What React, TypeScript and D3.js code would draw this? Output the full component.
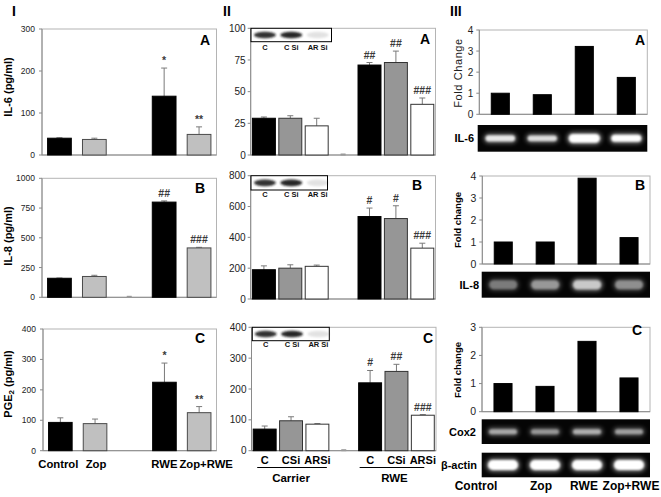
import React from "react";
import * as d3 from "d3";

const FONT = "Arial, 'Liberation Sans', Helvetica, sans-serif";

// ---------- Panel I data ----------
const groupsI = ["Control", "Zop", "", "RWE", "Zop+RWE"];
const il6Values = [40, 37, null, 140, 49];
const il6Errors = [1, 3, 0, 67, 18];
const il6Marks = ["", "", "", "*", "**"];
const il8Values = [160, 175, 0, 800, 415];
const il8Errors = [2, 10, 0, 10, 5];
const il8Marks = ["", "", "", "##", "###"];
const pge2Values = [93, 89, null, 225, 125];
const pge2Errors = [15, 15, 0, 63, 20];
const pge2Marks = ["", "", "", "*", "**"];

// ---------- Panel II data ----------
const groupsII = ["C", "CSi", "ARSi", "", "C", "CSi", "ARSi"];
const treatmentsII = ["Carrier", "RWE"];
const insetLanes = ["C", "C Si", "AR Si"];
const insetIntensity = [0.9, 0.95, 0.12];
const il6SiValues = [29, 29, 23, 0, 71, 73, 40];
const il6SiErrors = [1, 2, 6, 0, 2, 9, 5];
const il6SiMarks = ["", "", "", "", "##", "##", "###"];
const il8SiValues = [190, 200, 212, null, 535, 522, 330];
const il8SiErrors = [25, 22, 8, 0, 55, 83, 32];
const il8SiMarks = ["", "", "", "", "#", "#", "###"];
const pge2SiValues = [70, 97, 86, 0, 220, 257, 115];
const pge2SiErrors = [10, 13, 2, 0, 40, 23, 2];
const pge2SiMarks = ["", "", "", "", "#", "##", "###"];

// ---------- Panel III data ----------
const groupsIII = ["Control", "Zop", "RWE", "Zop+RWE"];
const il6Fold = [1.0, 0.93, 3.22, 1.75];
const il8Fold = [1.0, 1.0, 3.9, 1.2];
const cox2Fold = [1.0, 0.9, 2.5, 1.2];
const il6Gel = [0.85, 0.8, 1, 1];
const il6GelSize = [0.9, 0.85, 1.25, 1.0];
const il8Gel = [0.45, 0.6, 0.95, 0.55];
const cox2Gel = [0.7, 0.6, 0.75, 0.65];
const actinGel = [1, 1, 1, 1];

type PanelProps = {
  left: number; right: number; top: number; bottom: number;
  max: number; step: number;
  values: (number | null)[]; errors?: number[]; marks?: string[];
  fills: string[]; strokes: string[]; pad: number;
  tickFont: number; tickGap: number;
  letter: string; letterX: number; letterY: number;
  children?: (x: d3.ScaleBand<number>) => React.ReactNode;
};

function BarPanel(p: PanelProps) {
  const idx = p.values.map((_, i) => i);
  const x = d3.scaleBand<number>().domain(idx).range([p.left, p.right]).paddingInner(p.pad).paddingOuter(p.pad / 2);
  const y = d3.scaleLinear().domain([0, p.max]).range([p.bottom, p.top]);
  const ticks = d3.range(0, p.max + p.step / 2, p.step);
  const bw = x.bandwidth();
  return (
    <g fontFamily={FONT}>
      <rect x={p.left} y={p.top} width={p.right - p.left} height={p.bottom - p.top} fill="#fff" stroke="#b4b4b4" strokeWidth={1} />
      <line x1={p.left} x2={p.left} y1={p.top} y2={p.bottom} stroke="#8a8a8a" />
      <line x1={p.left} x2={p.right} y1={p.bottom} y2={p.bottom} stroke="#8a8a8a" />
      {ticks.map((t) => (
        <g key={t}>
          <line x1={p.left - 3} x2={p.left} y1={y(t)} y2={y(t)} stroke="#8a8a8a" />
          <text x={p.left - p.tickGap} y={y(t)} dy="0.36em" textAnchor="end" fontSize={p.tickFont} fill="#222">{t}</text>
        </g>
      ))}
      {p.values.map((v, i) => {
        if (v === null) return null;
        const cx = (x(i) as number) + bw / 2;
        if (v === 0) {
          return <line key={i} x1={cx - 2.5} x2={cx + 2.5} y1={p.bottom - 0.5} y2={p.bottom - 0.5} stroke="#999" strokeWidth={2} />;
        }
        const e = p.errors ? p.errors[i] : 0;
        const yt = y(v + e);
        return (
          <g key={i}>
            {e > 0 && (
              <g stroke="#7a7a7a" strokeWidth={1}>
                <line x1={cx} x2={cx} y1={y(v)} y2={yt} />
                <line x1={cx - 3} x2={cx + 3} y1={yt} y2={yt} />
              </g>
            )}
            <rect x={x(i)} y={y(v)} width={bw} height={p.bottom - y(v)} fill={p.fills[i]} stroke={p.strokes[i]} strokeWidth={1} />
            {p.marks && p.marks[i] && (
              <text x={cx} y={yt - 4} textAnchor="middle" fontSize={10.5} fontWeight="bold" fill="#3a3a3a">{p.marks[i]}</text>
            )}
          </g>
        );
      })}
      <text x={p.letterX} y={p.letterY} fontSize={14} fontWeight="bold" fill="#000">{p.letter}</text>
      {p.children && p.children(x)}
    </g>
  );
}

function Inset({ x0, x1, y0, y1, labelY, centers }: { x0: number; x1: number; y0: number; y1: number; labelY: number; centers: number[] }) {
  const cy = (y0 + y1) / 2;
  return (
    <g fontFamily={FONT}>
      <rect x={x0} y={y0} width={x1 - x0} height={y1 - y0} fill="#fff" stroke="#000" strokeWidth={1} />
      {insetIntensity.map((k, i) => (
        <ellipse key={i} cx={centers[i]} cy={cy} rx={11} ry={3.3} fill="#1a1a1a" opacity={k} filter="url(#blurS)" />
      ))}
      {insetLanes.map((l, i) => (
        <text key={l} x={centers[i]} y={labelY} textAnchor="middle" fontSize={7.5} fontWeight="bold" fill="#111">{l}</text>
      ))}
    </g>
  );
}

function Gel({ x0, x1, y0, y1, centers, intensity, sizes, bandH, bandW, label, labelX, glow }: {
  x0: number; x1: number; y0: number; y1: number; centers: number[]; intensity: number[]; sizes?: number[];
  bandH: number; bandW: number; label: string; labelX: number; glow: boolean;
}) {
  const cy = (y0 + y1) / 2;
  return (
    <g fontFamily={FONT}>
      <rect x={x0} y={y0} width={x1 - x0} height={y1 - y0} fill="#050505" />
      {intensity.map((k, i) => {
        const s = sizes ? sizes[i] : 1;
        const h = bandH * s;
        const w = bandW * (0.85 + 0.15 * s);
        return (
          <g key={i}>
            <rect x={centers[i] - w / 2 - 2} y={cy - h / 2 - 2} width={w + 4} height={h + 4} rx={h / 2 + 2}
              fill="#bbb" opacity={k * 0.6} filter="url(#blurL)" />
            <rect x={centers[i] - w / 2} y={cy - h / 2} width={w} height={h} rx={h / 2}
              fill={glow ? "#fff" : "#cfcfcf"} opacity={k} filter="url(#blurS)" />
          </g>
        );
      })}
      <text x={labelX} y={cy} dy="0.36em" textAnchor="end" fontSize={11} fontWeight="bold" fill="#000">{label}</text>
    </g>
  );
}

export default function App() {
  const fillsI = ["#000", "#c0c0c0", "#000", "#000", "#c0c0c0"];
  const strokesI = ["#000", "#4a4a4a", "#000", "#000", "#4a4a4a"];
  const fillsII = ["#000", "#969696", "#fff", "#000", "#000", "#969696", "#fff"];
  const strokesII = ["#000", "#333", "#333", "#000", "#000", "#333", "#333"];
  const fillsIII = ["#000", "#000", "#000", "#000"];
  const labelShiftI = [-2, 1, 0, 0, 7];

  const insetCenters = (x: d3.ScaleBand<number>) => [0, 1, 2].map((i) => (x(i) as number) + x.bandwidth() / 2 + 1);

  return (
    <svg width={661} height={497} style={{ position: "absolute", left: 0, top: 0, background: "#fff" }} fontFamily={FONT}>
      <defs>
        <filter id="blurS" x="-30%" y="-60%" width="160%" height="220%"><feGaussianBlur stdDeviation={0.9} /></filter>
        <filter id="blurL" x="-30%" y="-80%" width="160%" height="260%"><feGaussianBlur stdDeviation={2} /></filter>
      </defs>

      {/* Roman numerals */}
      <text x={12} y={16} fontSize={14} fontWeight="bold">I</text>
      <text x={223} y={16} fontSize={14} fontWeight="bold">II</text>
      <text x={450} y={16} fontSize={14} fontWeight="bold">III</text>

      {/* ---------- Column I ---------- */}
      <BarPanel left={42} right={216.5} top={29} bottom={155} max={300} step={100} values={il6Values} errors={il6Errors} marks={il6Marks}
        fills={fillsI} strokes={strokesI} pad={0.32} tickFont={8.5} tickGap={7} letter="A" letterX={200} letterY={45} />
      <BarPanel left={42} right={216.5} top={178.3} bottom={297.3} max={1000} step={250} values={il8Values} errors={il8Errors} marks={il8Marks}
        fills={fillsI} strokes={strokesI} pad={0.32} tickFont={8.5} tickGap={7} letter="B" letterX={195} letterY={193} />
      <BarPanel left={43} right={216.5} top={329} bottom={450.7} max={400} step={100} values={pge2Values} errors={pge2Errors} marks={pge2Marks}
        fills={fillsI} strokes={strokesI} pad={0.32} tickFont={8.5} tickGap={7} letter="C" letterX={195} letterY={343}>
        {(x) => groupsI.map((g, i) => g ? (
          <text key={i} x={(x(i) as number) + x.bandwidth() / 2 + labelShiftI[i]} y={468} textAnchor="middle" fontSize={11.3} fontWeight="bold">{g}</text>
        ) : null)}
      </BarPanel>
      <text transform="translate(12,87) rotate(-90)" textAnchor="middle" fontSize={11} fontWeight="bold">IL-6 (pg/ml)</text>
      <text transform="translate(12,236) rotate(-90)" textAnchor="middle" fontSize={11} fontWeight="bold">IL-8 (pg/ml)</text>
      <text transform="translate(12,384) rotate(-90)" textAnchor="middle" fontSize={11} fontWeight="bold">
        PGE<tspan fontSize={8} dy={2}>2</tspan><tspan dy={-2}> (pg/ml)</tspan>
      </text>

      {/* ---------- Column II ---------- */}
      <BarPanel left={250.7} right={435.5} top={28.3} bottom={155} max={100} step={25} values={il6SiValues} errors={il6SiErrors} marks={il6SiMarks}
        fills={fillsII} strokes={strokesII} pad={0.13} tickFont={10} tickGap={5} letter="A" letterX={420} letterY={44}>
        {(x) => <Inset x0={251} x1={331.5} y0={28.3} y1={41.7} labelY={50} centers={insetCenters(x)} />}
      </BarPanel>
      <BarPanel left={250.7} right={435.5} top={175.7} bottom={299} max={800} step={200} values={il8SiValues} errors={il8SiErrors} marks={il8SiMarks}
        fills={fillsII} strokes={strokesII} pad={0.13} tickFont={10} tickGap={5} letter="B" letterX={412} letterY={190}>
        {(x) => <Inset x0={251} x1={327.5} y0={175.7} y1={190} labelY={197} centers={insetCenters(x)} />}
      </BarPanel>
      <BarPanel left={251.5} right={436} top={327.3} bottom={450.7} max={400} step={100} values={pge2SiValues} errors={pge2SiErrors} marks={pge2SiMarks}
        fills={fillsII} strokes={strokesII} pad={0.13} tickFont={10} tickGap={5} letter="C" letterX={423} letterY={343}>
        {(x) => {
          const bw = x.bandwidth();
          const c = (i: number) => (x(i) as number) + bw / 2;
          return (
            <g>
              <Inset x0={252.3} x1={329.3} y0={327.3} y1={340.7} labelY={347} centers={insetCenters(x)} />
              {groupsII.map((g, i) => g ? (
                <text key={i} x={c(i)} y={464} textAnchor="middle" fontSize={11} fontWeight="bold">{g}</text>
              ) : null)}
              <line x1={(x(0) as number) + 4} x2={(x(2) as number) + bw - 2} y1={467.5} y2={467.5} stroke="#000" />
              <line x1={(x(4) as number) + 1} x2={(x(6) as number) + bw - 10} y1={467.5} y2={467.5} stroke="#000" />
              <text x={c(1)} y={482} textAnchor="middle" fontSize={11.5} fontWeight="bold">{treatmentsII[0]}</text>
              <text x={c(5) - 2} y={482} textAnchor="middle" fontSize={11.5} fontWeight="bold">{treatmentsII[1]}</text>
            </g>
          );
        }}
      </BarPanel>

      {/* ---------- Column III ---------- */}
      <BarPanel left={479.3} right={647.3} top={30} bottom={114.3} max={4} step={1} values={il6Fold}
        fills={fillsIII} strokes={fillsIII} pad={0.57} tickFont={10} tickGap={6} letter="A" letterX={635} letterY={45}>
        {(x) => <Gel x0={477.7} x1={647.3} y0={125} y1={151.7} centers={groupsIII.map((_, i) => (x(i) as number) + x.bandwidth() / 2)}
          intensity={il6Gel} sizes={il6GelSize} bandH={7} bandW={30} label="IL-6" labelX={474} glow={true} />}
      </BarPanel>
      <text transform="translate(462,73) rotate(-90)" textAnchor="middle" fontSize={11} fill="#222" letterSpacing={0.6}>Fold Change</text>

      <BarPanel left={482.3} right={650} top={176} bottom={264} max={4} step={1} values={il8Fold}
        fills={fillsIII} strokes={fillsIII} pad={0.57} tickFont={10.5} tickGap={6} letter="B" letterX={635} letterY={190}>
        {(x) => <Gel x0={481.7} x1={650} y0={271.7} y1={297.7} centers={groupsIII.map((_, i) => (x(i) as number) + x.bandwidth() / 2)}
          intensity={il8Gel} bandH={9} bandW={28} label="IL-8" labelX={479} glow={false} />}
      </BarPanel>
      <text transform="translate(461,220) rotate(-90)" textAnchor="middle" fontSize={9.5} fontWeight="bold">Fold change</text>

      <BarPanel left={482} right={650} top={327.3} bottom={411.7} max={3} step={1} values={cox2Fold}
        fills={fillsIII} strokes={fillsIII} pad={0.57} tickFont={10.5} tickGap={6} letter="C" letterX={632} letterY={335}>
        {(x) => {
          const cs = groupsIII.map((_, i) => (x(i) as number) + x.bandwidth() / 2);
          return (
            <g>
              <Gel x0={481.7} x1={650} y0={419.3} y1={444} centers={cs} intensity={cox2Gel} bandH={5} bandW={28} label="Cox2" labelX={476} glow={false} />
              <Gel x0={481.7} x1={650} y0={452.7} y1={477.3} centers={cs} intensity={actinGel} bandH={10} bandW={30} label="β-actin" labelX={477} glow={true} />
              {groupsIII.map((g, i) => (
                <text key={g} x={cs[i] + [-27, -4, -3, 2][i]} y={490} textAnchor="middle" fontSize={12} fontWeight="bold">{g}</text>
              ))}
            </g>
          );
        }}
      </BarPanel>
      <text transform="translate(461,370) rotate(-90)" textAnchor="middle" fontSize={9.5} fontWeight="bold">Fold change</text>
    </svg>
  );
}
